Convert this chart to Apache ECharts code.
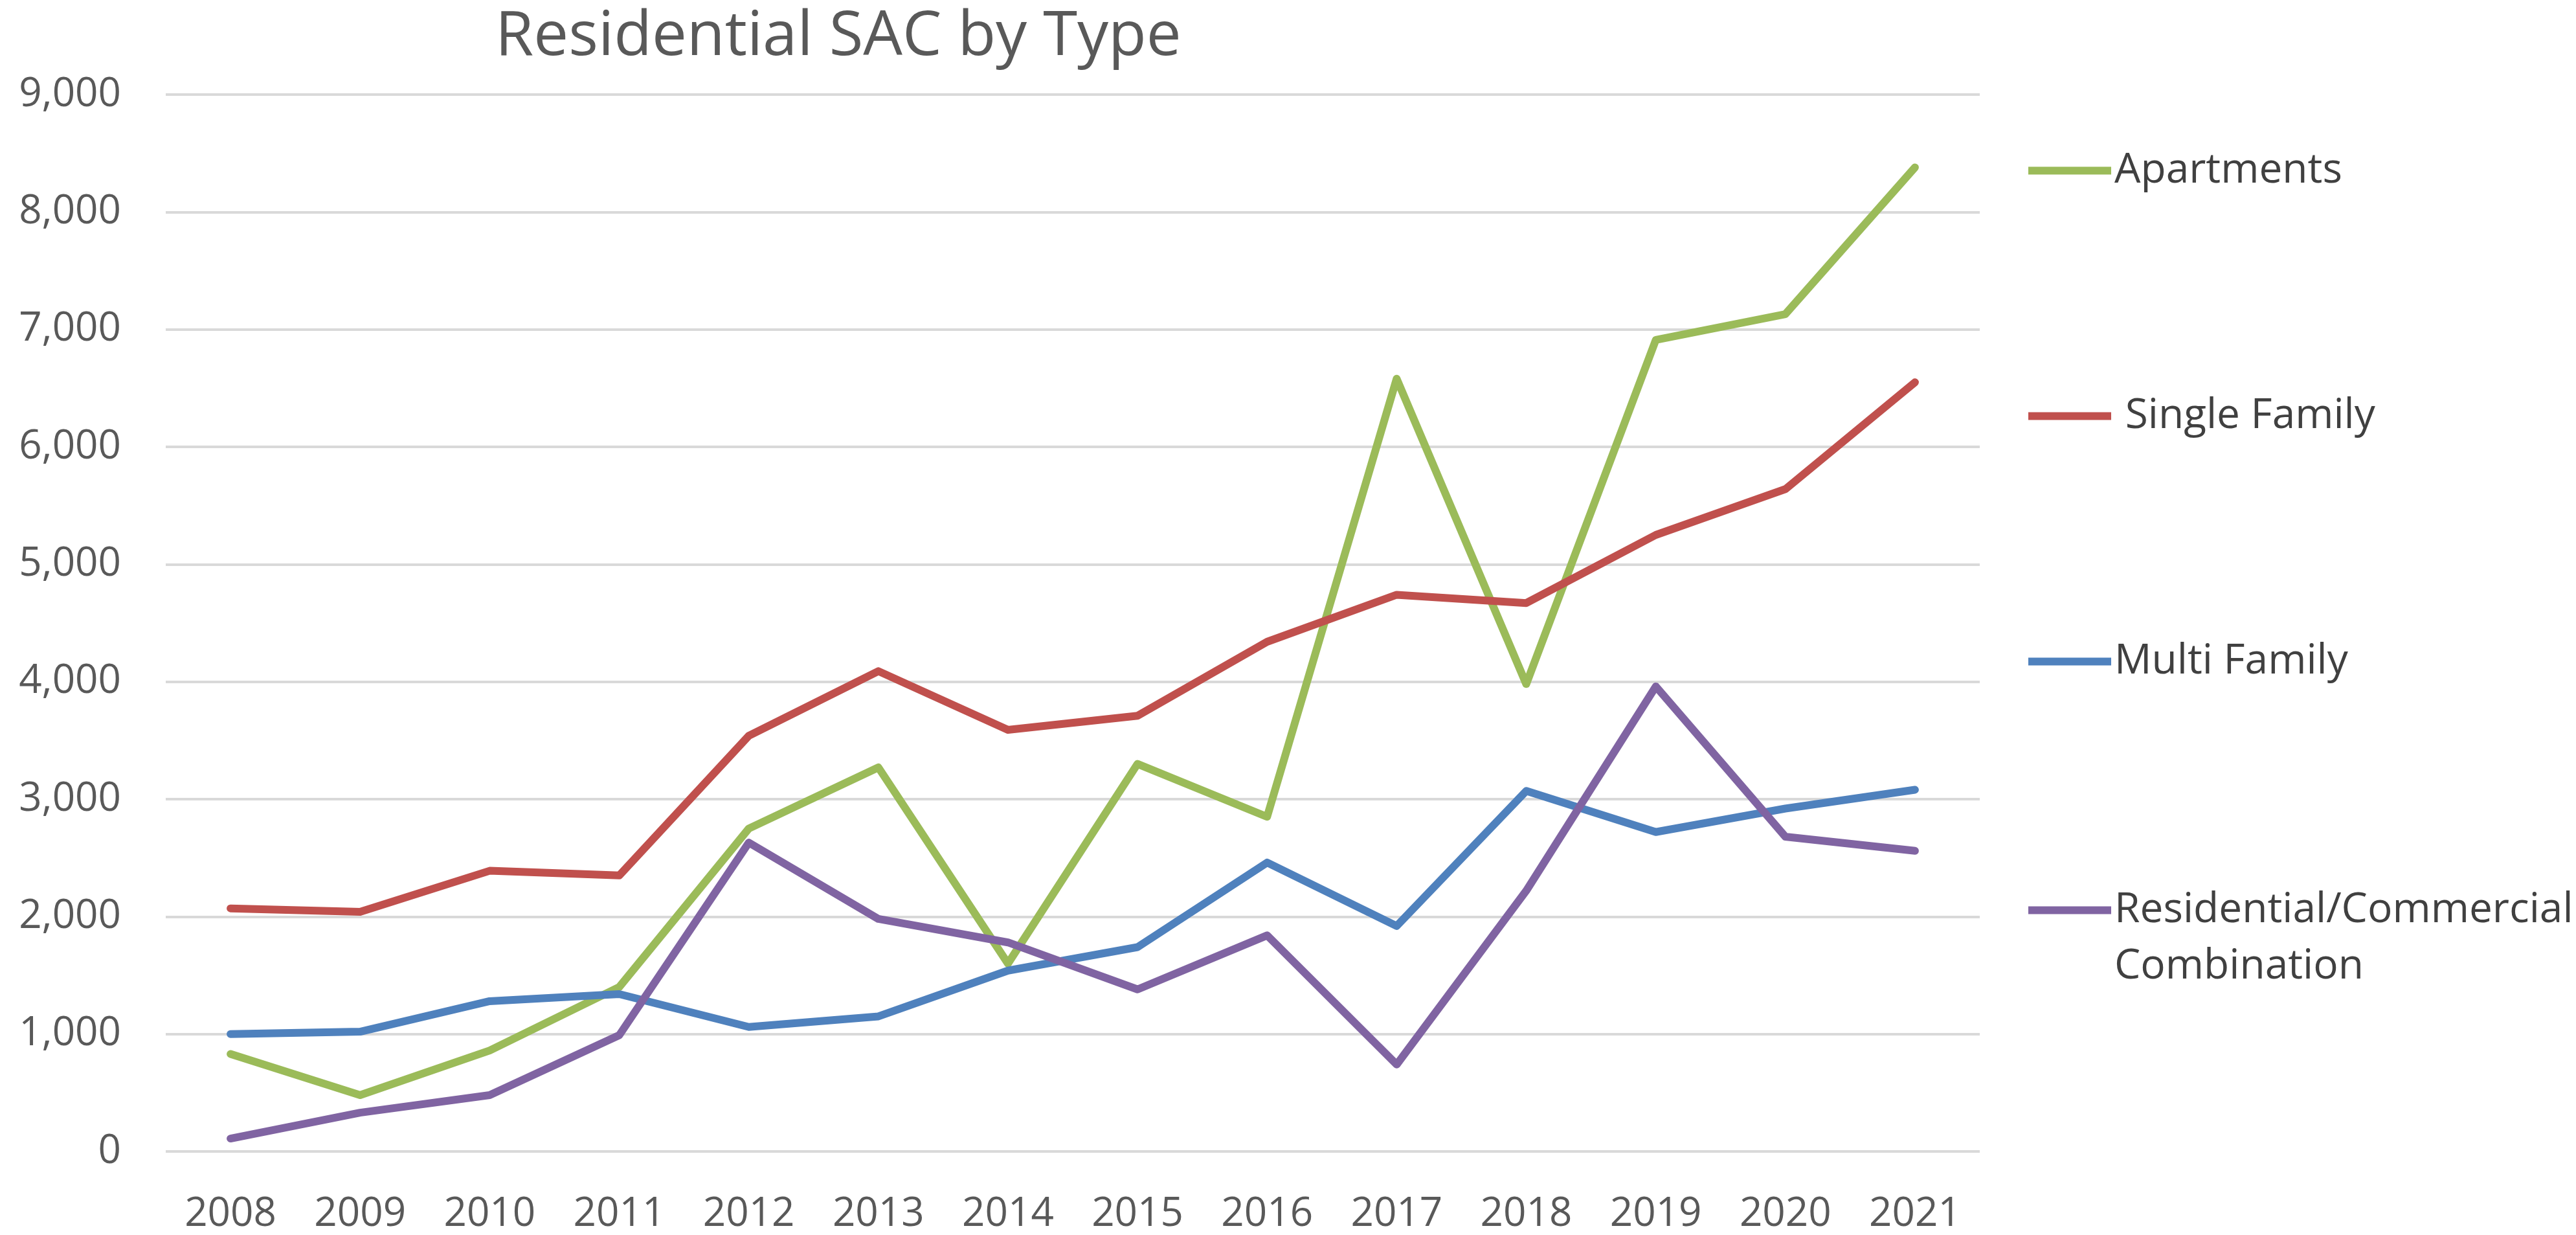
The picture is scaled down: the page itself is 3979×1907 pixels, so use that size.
<html lang="en">
<head>
    <meta charset="UTF-8">
    <title>Residential SAC by Type</title>
    <style>
        html, body { margin: 0; padding: 0; background: #ffffff; }
    </style>
</head>
<body>
    <div id="container" style="width:3979px;height:1907px"></div>

    <script src="https://cdn.jsdelivr.net/npm/echarts@6/dist/echarts.min.js"></script>
    <script>
        var years = ['2008','2009','2010','2011','2012','2013','2014','2015','2016','2017','2018','2019','2020','2021'];

        var apartments   = [830, 480, 860, 1400, 2750, 3270, 1600, 3300, 2850, 6580, 3980, 6910, 7130, 8380];
        var singleFamily = [2070, 2040, 2390, 2350, 3540, 4090, 3590, 3710, 4340, 4740, 4670, 5250, 5640, 6550];
        var multiFamily  = [1000, 1020, 1280, 1340, 1060, 1150, 1540, 1740, 2460, 1920, 3070, 2720, 2920, 3080];
        var resComm      = [110, 330, 480, 990, 2630, 1980, 1780, 1380, 1840, 740, 2220, 3960, 2680, 2560];

        var seriesNames = ['Apartments', ' Single Family', 'Multi Family', 'Residential/Commercial\nCombination'];
        var seriesData = [apartments, singleFamily, multiFamily, resComm];
        var colors = ['#9bbb59', '#c0504d', '#4f81bd', '#8064a2'];

        var font = '"Open Sans", "Liberation Sans", sans-serif';
        var myChart = echarts.init(document.getElementById('container'));

        var series = [];
        seriesNames.forEach(function (name, i) {
            series.push({
                name: name,
                type: 'line',
                data: seriesData[i],
                symbol: 'none',
                lineStyle: { color: colors[i], width: 12, cap: 'round', join: 'round' },
                itemStyle: { color: colors[i] },
                animation: false
            });
        });

        // shared legend look; the two-line entry gets its own legend box
        var legendStyle = {
            orient: 'vertical',
            left: 3128,
            itemWidth: 128,
            itemHeight: 12,
            itemGap: 292,
            selectedMode: false,
            icon: 'rect',
            textStyle: {
                fontFamily: font,
                fontSize: 64,
                lineHeight: 87,
                color: '#404040'
            }
        };
        var legendTop = echarts.util.merge({
            data: seriesNames.slice(0, 3),
            top: 215
        }, legendStyle);
        var legendBottom = echarts.util.merge({
            data: [seriesNames[3]],
            top: 1270,
            // blank first line so the first text line sits level with the icon
            formatter: function (name) {
                return ' \n' + name;
            }
        }, legendStyle);

        var option = {
            backgroundColor: '#ffffff',
            color: colors,
            title: {
                text: 'Residential SAC by Type',
                left: 765,
                top: 10,
                padding: 0,
                textStyle: {
                    fontFamily: font,
                    fontSize: 96,
                    fontWeight: 'normal',
                    color: '#595959'
                }
            },
            legend: [legendTop, legendBottom],
            grid: {
                left: 256,
                right: 921,
                top: 146,
                bottom: 129,
                containLabel: false
            },
            xAxis: {
                type: 'category',
                data: years,
                boundaryGap: true,
                axisLine: { show: false },
                axisTick: { show: false },
                axisLabel: {
                    margin: 66,
                    fontFamily: font,
                    fontSize: 62,
                    color: '#595959'
                }
            },
            yAxis: {
                type: 'value',
                min: 0,
                max: 9000,
                interval: 1000,
                axisLine: { show: false },
                axisTick: { show: false },
                splitLine: { lineStyle: { color: '#d9d9d9', width: 4 } },
                axisLabel: {
                    margin: 69,
                    fontFamily: font,
                    fontSize: 62,
                    color: '#595959',
                    formatter: function (v) {
                        return v.toLocaleString('en-US');
                    }
                }
            },
            series: series
        };
        myChart.setOption(option);
    </script>
</body>
</html>
